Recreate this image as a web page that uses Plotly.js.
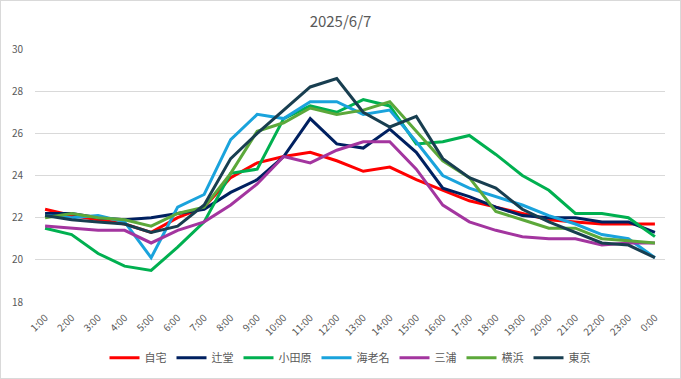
<!DOCTYPE html>
<html>
<head>
<meta charset="utf-8">
<script src="https://cdn.plot.ly/plotly-3.0.1.min.js"></script>
<style>
  html, body { margin: 0; padding: 0; background: #fff; }
  #chart { width: 679px; height: 377px; border: 1px solid #D9D9D9; }
</style>
</head>
<body>
<div id="chart"></div>
<script>
const hours = ["1:00","2:00","3:00","4:00","5:00","6:00","7:00","8:00","9:00","10:00","11:00","12:00",
               "13:00","14:00","15:00","16:00","17:00","18:00","19:00","20:00","21:00","22:00","23:00","0:00"];

const jitaku   = [22.4,22.1,21.9,21.7,21.3,22.0,22.5,23.9,24.6,24.9,25.1,24.7,24.2,24.4,23.8,23.3,22.8,22.5,22.2,21.9,21.8,21.7,21.7,21.7];
const tsujido  = [22.2,22.2,22.0,21.9,22.0,22.2,22.4,23.2,23.8,24.9,26.7,25.5,25.3,26.2,25.1,23.4,23.0,22.5,22.1,22.0,22.0,21.8,21.8,21.3];
const odawara  = [21.5,21.2,20.3,19.7,19.5,20.6,21.8,24.1,24.3,26.7,27.3,27.0,27.6,27.3,25.5,25.6,25.9,25.0,24.0,23.3,22.2,22.2,22.0,21.1];
const ebina    = [22.1,22.0,22.1,21.8,20.1,22.5,23.1,25.7,26.9,26.7,27.5,27.5,26.9,27.1,25.6,24.0,23.4,23.0,22.6,22.1,21.7,21.2,21.0,20.1];
const miura    = [21.6,21.5,21.4,21.4,20.8,21.4,21.8,22.6,23.6,24.9,24.6,25.2,25.6,25.6,24.3,22.6,21.8,21.4,21.1,21.0,21.0,20.7,20.8,20.8];
const yokohama = [22.0,22.2,22.0,21.9,21.6,22.2,22.5,24.1,26.1,26.5,27.2,26.9,27.1,27.5,26.1,24.7,23.9,22.3,21.9,21.5,21.5,21.0,20.9,20.8];
const tokyo    = [22.1,21.9,21.8,21.7,21.3,21.6,22.6,24.8,26.0,27.1,28.2,28.6,27.0,26.3,26.8,24.8,23.9,23.4,22.4,21.8,21.3,20.8,20.7,20.1];

const seriesNames = ["自宅","辻堂","小田原","海老名","三浦","横浜","東京"];
const seriesData = [jitaku, tsujido, odawara, ebina, miura, yokohama, tokyo];
const seriesColors = ["#FF0000","#002060","#00B050","#1AA3DC","#A3359F","#5CA83A","#183E50"];

const yTicks = [18,20,22,24,26,28,30];

const traces = seriesNames.map((name, i) => ({
  type: "scatter",
  mode: "lines",
  name: name,
  x: hours,
  y: seriesData[i],
  line: { color: seriesColors[i], width: 3 },
  hoverinfo: "skip"
}));

const font = "'Noto Sans CJK JP', 'Noto Sans', sans-serif";

const layout = {
  width: 679,
  height: 377,
  margin: { l: 34, r: 15, t: 48, b: 76 },
  paper_bgcolor: "#ffffff",
  plot_bgcolor: "#ffffff",
  font: { family: font, color: "#595959", size: 10 },
  title: {
    text: "2025/6/7",
    font: { family: font, size: 15, color: "#595959" },
    x: 0.5, xanchor: "center",
    y: 0.945, yanchor: "middle"
  },
  xaxis: {
    type: "category",
    range: [-0.38, 23.38],
    tickangle: -45,
    automargin: false,
    showgrid: false,
    showline: false,
    zeroline: false,
    ticks: "",
    ticklabelstandoff: 7,
    tickfont: { size: 10, color: "#595959" },
    fixedrange: true
  },
  yaxis: {
    range: [18, 30],
    tickvals: yTicks,
    ticktext: yTicks.map(String),
    automargin: false,
    showgrid: true,
    gridcolor: "#D9D9D9",
    gridwidth: 1,
    zeroline: false,
    showline: false,
    ticks: "",
    ticklabelstandoff: 11,
    tickfont: { size: 10, color: "#595959" },
    fixedrange: true
  },
  showlegend: true,
  legend: {
    orientation: "h",
    x: 0.5, xanchor: "center",
    yref: "container",
    y: 0.054, yanchor: "middle",
    font: { family: font, size: 11, color: "#595959" },
    itemwidth: 30,
    tracegroupgap: 0,
    bgcolor: "rgba(0,0,0,0)"
  }
};

Plotly.newPlot("chart", traces, layout, { displayModeBar: false, staticPlot: true });
</script>
</body>
</html>
